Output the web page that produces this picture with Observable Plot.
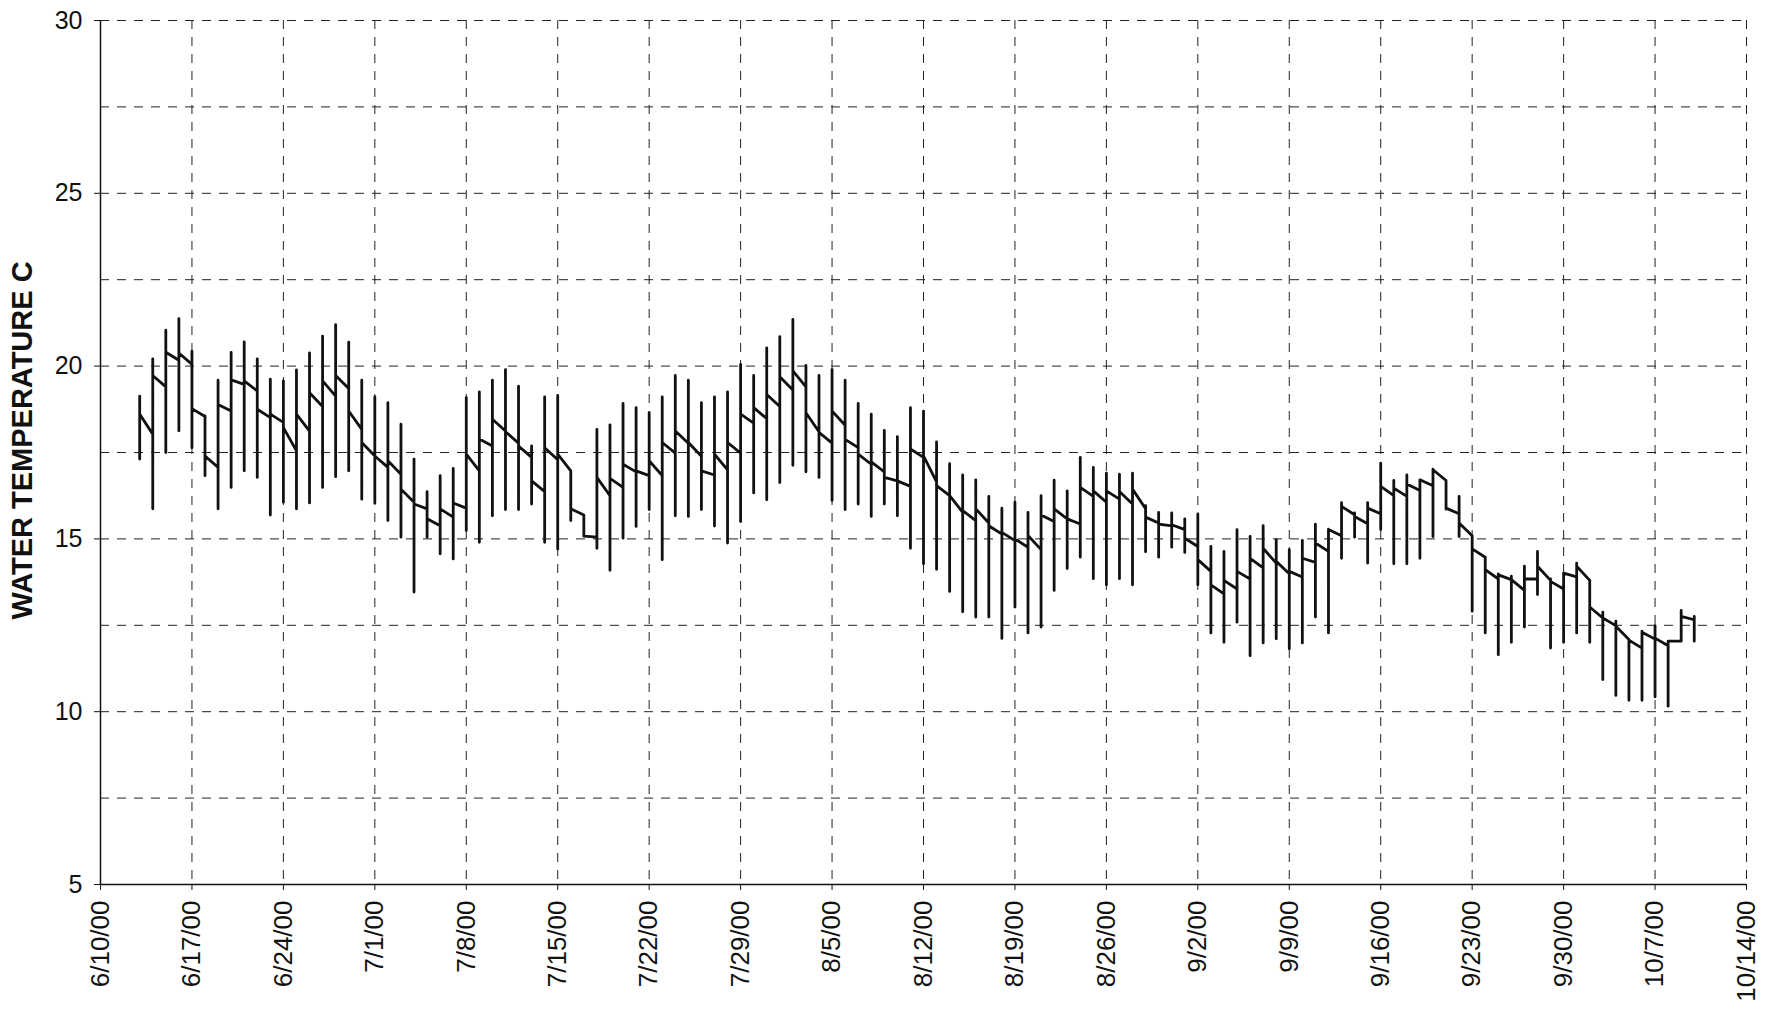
<!DOCTYPE html>
<html><head><meta charset="utf-8">
<script src="https://cdn.jsdelivr.net/npm/d3@7"></script>
<script src="https://cdn.jsdelivr.net/npm/@observablehq/plot@0.6"></script>
<style>html,body{margin:0;padding:0;background:#fff;} #chart svg{display:block}</style>
</head><body><div id="chart"></div>
<script>
// first day with readings (one entry per day below)
const firstDay = "2000-06-13";
// daily minimum water temperature, C
const dayMin = [17.31,15.87,17.50,18.13,17.64,16.83,15.87,16.49,16.97,16.78,15.69,16.06,15.87,
  16.04,16.49,16.80,16.97,16.15,16.04,15.53,15.05,13.46,15.05,14.57,14.42,15.24,
  14.90,15.67,15.85,15.85,16.01,14.90,14.71,15.53,15.08,14.73,14.09,15.02,15.36,
  15.85,14.40,15.67,15.65,15.85,15.37,14.88,15.50,16.33,16.13,16.63,17.13,16.94,
  16.78,16.11,15.85,16.01,15.65,16.01,15.67,14.73,14.28,14.12,13.48,12.89,12.74,12.74,
  12.12,13.03,12.28,12.45,13.51,14.14,14.47,13.85,13.67,13.85,13.67,14.63,14.47,
  14.76,14.61,13.67,12.28,12.01,12.59,11.62,11.99,12.11,11.82,11.99,12.74,12.28,14.44,
  15.05,14.30,15.27,14.28,14.28,14.44,15.07,15.86,15.07,12.91,12.28,11.65,12.01,12.45,
  13.39,11.84,12.01,12.28,12.01,10.93,10.47,10.33,10.33,10.43,10.16,12.04,12.04];
// daily maximum water temperature, C
const dayMax = [19.13,20.21,21.04,21.37,20.43,18.56,19.59,20.40,20.70,20.21,19.62,19.57,19.89,
  20.38,20.87,21.20,20.69,19.59,19.11,18.94,18.32,17.31,16.37,16.83,17.04,19.09,
  19.25,19.59,19.90,19.42,17.69,19.11,19.15,16.97,15.69,18.17,18.30,18.92,18.80,
  18.65,19.11,19.73,19.59,18.94,19.11,19.25,20.05,19.73,20.53,20.85,21.35,20.02,
  19.73,19.90,19.59,18.92,18.61,18.14,17.96,18.80,18.70,17.81,17.18,16.85,16.71,16.23,
  15.89,16.06,15.77,16.25,16.70,16.39,17.36,17.07,16.90,16.87,16.90,15.96,15.77,
  15.75,15.58,15.72,14.78,14.64,15.27,15.07,15.38,14.98,14.69,14.96,15.43,15.28,16.05,
  15.75,16.05,17.19,16.69,16.85,16.71,17.02,16.69,16.23,15.09,14.47,13.99,13.92,14.21,
  14.64,13.84,14.01,14.30,13.80,12.88,12.62,12.09,12.33,12.49,12.04,12.93,12.76];
// first reading of each day, C
const dayOpen = [18.50,18.03,19.40,20.17,20.05,18.54,17.07,18.70,19.47,19.28,18.51,18.37,17.55,
  18.12,18.83,19.13,19.35,18.17,17.40,17.07,16.87,16.06,15.87,15.38,15.63,15.89,
  16.97,17.69,18.12,17.77,17.36,16.37,17.29,16.97,15.69,15.05,16.25,16.49,16.94,
  16.83,16.83,17.48,17.77,17.39,16.85,17.00,17.48,18.35,18.48,18.83,19.31,19.40,
  18.10,17.77,18.29,17.64,17.16,16.94,16.68,16.52,17.36,16.65,16.25,15.77,15.53,15.46,
  15.14,14.95,14.76,14.69,15.50,15.58,15.43,16.23,16.06,16.15,16.01,15.87,15.46,
  15.38,15.27,14.78,14.06,13.41,13.55,13.84,14.16,14.30,13.99,13.90,14.32,14.64,15.09,
  15.70,15.44,15.73,16.25,16.23,16.40,16.54,16.69,15.73,15.09,14.47,13.84,13.82,13.51,
  13.84,13.80,13.55,13.90,13.80,12.71,12.49,12.09,11.84,12.10,11.91,12.04,12.66];
// last reading of each day, C
const dayClose = [18.61,19.73,20.40,20.38,18.77,17.40,18.89,19.60,19.57,18.75,18.61,18.22,18.61,
  19.23,19.57,19.73,18.70,17.79,17.40,17.26,16.44,16.01,15.58,15.87,16.04,17.45,
  17.89,18.46,18.10,17.69,16.68,17.64,17.45,15.87,15.08,16.78,16.75,17.16,16.97,
  17.26,17.79,18.12,17.79,16.97,17.45,17.79,18.61,18.80,19.18,19.69,19.86,18.65,
  18.08,18.70,17.88,17.45,17.23,16.78,16.68,17.60,17.40,16.54,16.25,15.82,15.87,15.38,
  15.19,15.00,15.10,15.69,15.87,15.58,16.49,16.39,16.39,16.37,16.44,15.63,15.43,
  15.41,15.02,14.40,13.67,13.80,14.06,14.44,14.73,14.35,14.06,14.44,14.88,15.27,15.94,
  15.65,15.89,16.52,16.47,16.59,16.71,17.00,15.89,15.46,14.71,14.11,13.96,13.82,13.84,
  14.21,13.77,14.01,14.21,13.03,12.71,12.47,12.07,12.30,12.13,12.04,12.76,12.66];
// x axis tick dates (weekly)
const xTicks = ["2000-06-10","2000-06-17","2000-06-24","2000-07-01","2000-07-08","2000-07-15",
  "2000-07-22","2000-07-29","2000-08-05","2000-08-12","2000-08-19","2000-08-26","2000-09-02",
  "2000-09-09","2000-09-16","2000-09-23","2000-09-30","2000-10-07","2000-10-14"];
const yTicks = [5, 10, 15, 20, 25, 30];
const yGrid = [7.5, 10, 12.5, 15, 17.5, 20, 22.5, 25, 27.5, 30];
const yLabel = "WATER TEMPERATURE C";

const parse = d3.utcParse("%Y-%m-%d");
const start = parse(firstDay);
const points = [];
dayMin.forEach((_, i) => {
  const date = d3.utcDay.offset(start, i);
  for (const v of [dayOpen[i], dayMin[i], dayMax[i], dayClose[i]]) points.push({date, temp: v});
});
const tickDates = xTicks.map(parse);
const fmt = d3.utcFormat("%-m/%-d/%y");
const font = "'Liberation Sans', Arial, sans-serif";

const chart = Plot.plot({
  width: 1773, height: 1011,
  marginLeft: 100, marginRight: 27, marginTop: 20, marginBottom: 127,
  style: {fontFamily: font, fontSize: "25px", color: "#111", background: "#fff"},
  x: {type: "utc", domain: [tickDates[0], tickDates[tickDates.length - 1]]},
  y: {domain: [5, 30]},
  marks: [
    Plot.gridY(yGrid, {stroke: "#222", strokeOpacity: 1, strokeWidth: 1, strokeDasharray: "9,8"}),
    Plot.gridX(tickDates.slice(1), {stroke: "#222", strokeOpacity: 1, strokeWidth: 1, strokeDasharray: "9,8"}),
    Plot.ruleX([tickDates[0]], {stroke: "#111", strokeWidth: 1.5}),
    Plot.ruleY([5], {stroke: "#111", strokeWidth: 1.5}),
    Plot.axisY(yTicks, {tickSize: 6, tickPadding: 12, label: null, fontSize: 25}),
    Plot.axisX(tickDates, {tickSize: 6, tickPadding: 10, tickRotate: -90, tickFormat: fmt, label: null, fontSize: 26}),
    Plot.line(points, {x: "date", y: "temp", stroke: "#111", strokeWidth: 2.8, strokeLinejoin: "round"}),
    Plot.text([yLabel], {frameAnchor: "left", textAnchor: "middle", rotate: -90, dx: -78, dy: -12, fontWeight: "bold", fontSize: 29, fill: "#111"})
  ]
});
document.getElementById("chart").appendChild(chart);
</script>
</body></html>
